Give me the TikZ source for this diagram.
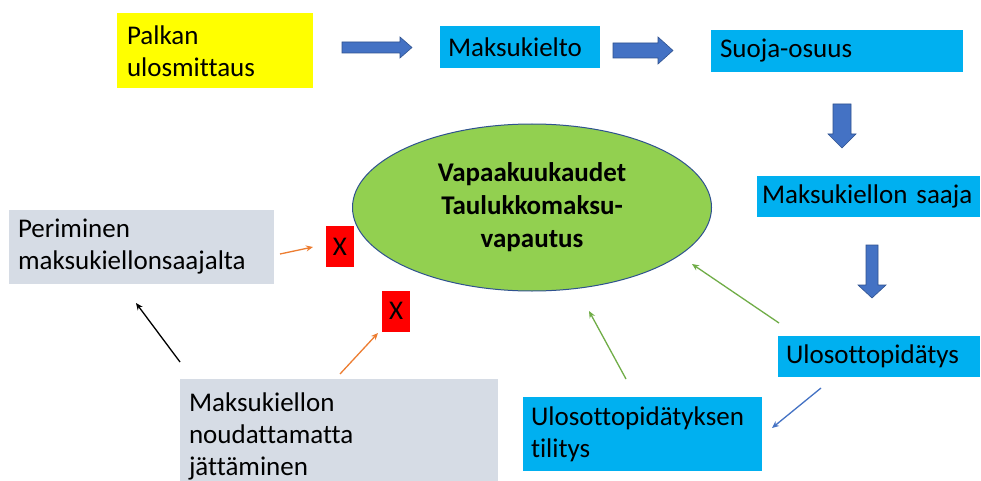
\documentclass[tikz,border=0pt]{standalone}
\usepackage{fontspec}
\setmainfont{Carlito}[Ligatures=NoCommon]
\usetikzlibrary{arrows.meta,shapes.geometric}
\definecolor{cyanbox}{HTML}{00B0F0}
\definecolor{yelbox}{HTML}{FFFF00}
\definecolor{greybox}{HTML}{D6DCE5}
\definecolor{ellfill}{HTML}{92D050}
\definecolor{ellline}{HTML}{2F528F}
\definecolor{blockblue}{HTML}{4472C4}
\definecolor{orangeln}{HTML}{ED7D31}
\definecolor{greenln}{HTML}{70AD47}
\definecolor{redbox}{HTML}{FF0000}
\tikzset{
  box/.style={rectangle, inner ysep=0pt, inner xsep=9pt, align=left,
    font=\fontsize{27}{32}\selectfont},
  xbox/.style={rectangle, fill=redbox, inner sep=0pt, minimum width=28, minimum height=41,
    font=\fontsize{27}{32}\selectfont},
  blockarrow/.style={fill=blockblue, draw=ellline, line width=0.6pt},
  thin/.style={line width=1.3pt, -{Stealth[length=7pt,width=6pt]}},
}
\begin{document}
\begin{tikzpicture}[x=1pt,y=-1pt]
\useasboundingbox (0,0) rectangle (981,481);
\clip (0,0) rectangle (981,481);
\fill[white] (0,0) rectangle (981,481);

% boxes
\node[box, fill=yelbox, minimum height=75, text width=176, inner xsep=10pt] (palkan) at (215,51) {Palkan\\ulosmittaus};
\node[box, fill=cyanbox, minimum height=42, text width=144, inner xsep=8pt] (kielto) at (520,47) {Maksukielto};
\node[box, fill=cyanbox, minimum height=42, text width=234] (suoja) at (837,51) {Suoja-osuus};
\node[box, fill=cyanbox, minimum height=41, text width=213, inner xsep=5pt] (saaja) at (868.5,196.5) {Maksukiellon~saaja};
\node[box, fill=cyanbox, minimum height=41, text width=186, inner xsep=8pt] (pidatys) at (879,356.5) {Ulosottopidätys};
\node[box, fill=cyanbox, minimum height=74, text width=223, inner xsep=8pt] (tilitys) at (642.5,434) {Ulosottopidätyksen\\tilitys};
\node[box, fill=greybox, minimum height=74, text width=247] (periminen) at (141.5,247) {Periminen\\maksukiellonsaajalta};
\node[box, fill=greybox, minimum height=114, text width=300] (noud) at (339,436) {Maksukiellon\\noudattamatta\\jättäminen};
\node[xbox] (x1) at (340,246.5) {X};
\node[xbox] (x2) at (396,311) {X};

% ellipse
\node[ellipse, fill=ellfill, draw=ellline, line width=1pt, minimum width=359, minimum height=167,
  inner sep=0pt, align=center, font=\fontsize{27}{33}\selectfont\bfseries] (ell) at (532,207.5)
  {Vapaakuukaudet\\Taulukkomaksu-\\vapautus};

% block arrows
\draw[blockarrow] (342,42) -- (400,42) -- (400,37) -- (412,47.5) -- (400,58) -- (400,53) -- (342,53) -- cycle;
\draw[blockarrow] (613,43) -- (658,43) -- (658,37) -- (673,50.5) -- (658,64) -- (658,58) -- (613,58) -- cycle;
\draw[blockarrow] (833,104) -- (851,104) -- (851,134) -- (856,134) -- (842,148) -- (828,134) -- (833,134) -- cycle;
\draw[blockarrow] (866,245) -- (878,245) -- (878,285) -- (886,285) -- (872,298) -- (858,285) -- (866,285) -- cycle;

% thin connectors
\coordinate (g1s) at (779,323);
\coordinate (g1e) at (692,264);
\coordinate (g2s) at (626,379);
\coordinate (g2e) at (589,311);
\coordinate (b1s) at (821,388);
\coordinate (b1e) at (772,428);
\coordinate (o1s) at (280,254);
\coordinate (o1e) at (313,247);
\coordinate (o2s) at (340,374);
\coordinate (o2e) at (378,333);
\coordinate (k1s) at (180,362);
\coordinate (k1e) at (136,303);
\draw[thin, greenln] (g1s) -- (g1e);
\draw[thin, greenln] (g2s) -- (g2e);
\draw[thin, blockblue] (b1s) -- (b1e);
\draw[thin, orangeln] (o1s) -- (o1e);
\draw[thin, orangeln] (o2s) -- (o2e);
\draw[thin, black] (k1s) -- (k1e);
\end{tikzpicture}
\end{document}
